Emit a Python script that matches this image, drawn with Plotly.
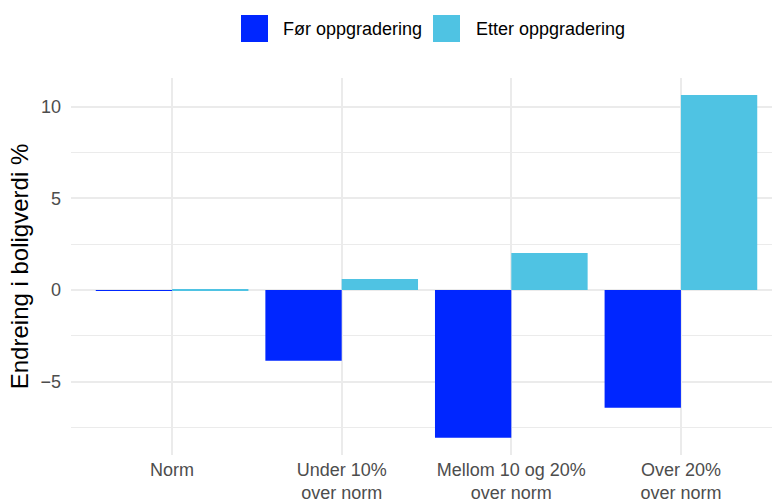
import plotly.graph_objects as go

categories = ["Norm", "Under 10%<br>over norm", "Mellom 10 og 20%<br>over norm", "Over 20%<br>over norm"]
series_names = ["Før oppgradering", "Etter oppgradering"]
before_values = [-0.04, -3.86, -8.06, -6.42]
after_values = [0.04, 0.60, 2.02, 10.64]
y_tick_values = [-5, 0, 5, 10]
y_tick_labels = ["\u22125", "0", "5", "10"]

colors = ["#0026ff", "#4fc3e3"]
FONT = "Liberation Sans, Arial, sans-serif"

W, H = 772, 502
ML, MR, MT, MB = 71, 0, 78, 47
PW, PH = W - ML - MR, H - MT - MB

def px_x(px):
    return (px - ML) / PW

def px_y(py):
    return (H - MB - py) / PH

fig = go.Figure()
for name, vals, col in zip(series_names, [before_values, after_values], colors):
    fig.add_trace(go.Bar(x=categories, y=vals, name=name, showlegend=False,
                         marker=dict(color=col, line=dict(width=0))))

# legend keys (top, horizontal)
legend_key_left = [241, 433]
legend_text_left = [281, 474]
for name, col, kx, tx in zip(series_names, colors, legend_key_left, legend_text_left):
    fig.add_shape(type="rect", xref="paper", yref="paper",
                  x0=px_x(kx), x1=px_x(kx + 27), y0=px_y(42), y1=px_y(15),
                  fillcolor=col, line=dict(width=0))
    fig.add_annotation(xref="paper", yref="paper", x=px_x(tx), y=px_y(29),
                       xanchor="left", yanchor="middle", text=name, showarrow=False,
                       font=dict(size=18, color="#000000"))

fig.update_layout(
    width=W, height=H,
    margin=dict(l=ML, r=MR, t=MT, b=MB, autoexpand=False),
    paper_bgcolor="white", plot_bgcolor="white",
    barmode="group", bargap=0.1, bargroupgap=0,
    font=dict(family=FONT, size=18, color="#000000"),
    showlegend=False,
    xaxis=dict(range=[-0.596, 3.537], showgrid=True, gridcolor="#ebebeb", gridwidth=1.5,
               showline=False, ticks="", zeroline=False, automargin=False,
               ticklabelstandoff=2,
               tickfont=dict(size=18, color="#4d4d4d")),
    yaxis=dict(range=[-9.0, 11.57], tickvals=y_tick_values, ticktext=y_tick_labels,
               showgrid=True, gridcolor="#ebebeb", gridwidth=1.5, zeroline=False,
               showline=False, ticks="", automargin=False, ticklabelstandoff=9,
               tickfont=dict(size=18, color="#4d4d4d"),
               title=dict(text="Endreing i boligverdi %", font=dict(size=24, color="#000000"), standoff=5),
               minor=dict(tickmode="linear", tick0=0, dtick=2.5, showgrid=True,
                          gridcolor="#ebebeb", gridwidth=0.8)),
)

fig.write_html("out.html", config={"displayModeBar": False},
               post_script="document.body.style.margin='0';document.body.style.overflow='hidden';")
